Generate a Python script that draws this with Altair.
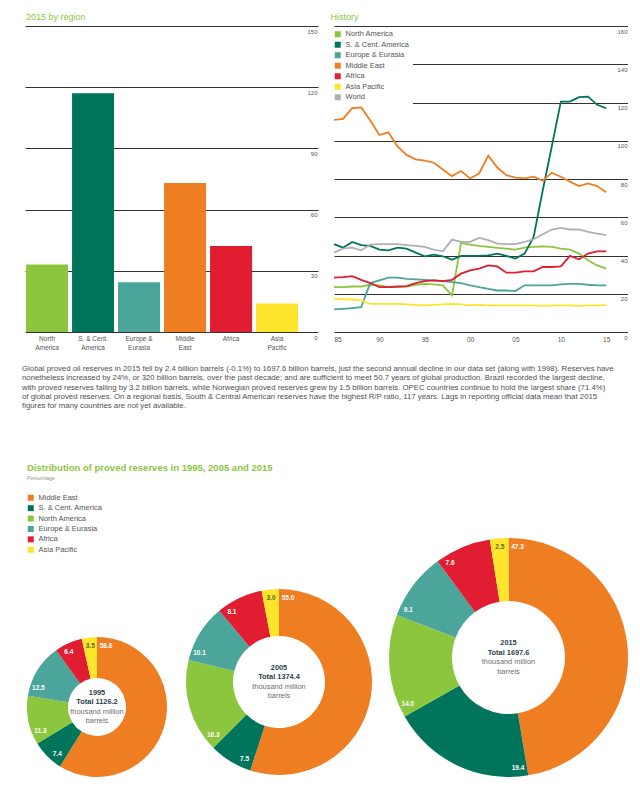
import math
import altair as alt
import pandas as pd

# ---------------- data ----------------
bar_regions = ["North America", "S. & Cent. America", "Europe & Eurasia",
               "Middle East", "Africa", "Asia Pacific"]
bar_rp_2015 = [33.1, 117.0, 24.4, 73.1, 42.2, 14.0]
bar_ticks = [0, 30, 60, 90, 120, 150]

hist_years = list(range(1985, 2016))
hist_series = ["North America", "S. & Cent. America", "Europe & Eurasia",
               "Middle East", "Africa", "Asia Pacific", "World"]
hist_na = [23.5, 23.5, 23.8, 23.8, 24.7, 24.4, 23.5, 23.5, 23.8, 24.7, 25.2, 24.9, 24.4, 19.1,
           46.6, 45.7, 45.0, 44.5, 44.0, 43.6, 43.1, 44.1, 44.5, 44.8, 44.5, 43.6, 43.1, 41.0,
           37.5, 34.8, 33.1]
hist_sca = [45.9, 44.1, 47.1, 45.4, 45.0, 43.1, 42.7, 44.1, 43.6, 41.5, 39.6, 40.4, 39.6, 37.8,
            39.8, 39.8, 39.8, 40.1, 41.0, 39.8, 38.4, 41.0, 49.7, 74.0, 97.0, 120.5, 120.5, 122.8,
            123.1, 118.8, 117.0]
hist_eur = [11.8, 12.1, 12.5, 13.0, 25.6, 27.0, 28.4, 28.4, 27.8, 27.5, 27.3, 27.0, 26.6, 26.1,
            25.6, 24.4, 23.5, 22.6, 21.7, 21.7, 21.4, 24.4, 24.4, 24.4, 24.4, 24.9, 25.2, 25.2,
            24.7, 24.4, 24.4]
hist_me = [110.9, 111.4, 117.0, 117.4, 110.6, 103.0, 104.4, 97.0, 92.6, 90.3, 89.6, 88.5, 85.0,
           81.5, 84.2, 80.3, 83.0, 92.2, 86.0, 82.0, 80.7, 80.3, 81.2, 79.1, 83.3, 81.2, 78.6,
           76.3, 77.7, 76.3, 73.1]
hist_afr = [28.4, 28.7, 29.2, 27.3, 25.6, 23.5, 23.5, 23.8, 24.0, 25.6, 26.6, 27.0, 26.6, 27.3,
            30.5, 32.2, 33.1, 34.8, 34.3, 31.0, 31.0, 31.7, 31.7, 34.0, 34.0, 34.3, 39.8, 38.0,
            41.0, 42.2, 42.2]
hist_ap = [17.4, 17.2, 17.0, 16.5, 14.7, 14.7, 14.7, 14.7, 14.4, 14.2, 13.9, 14.2, 14.4, 14.7,
           14.4, 13.9, 14.2, 13.9, 13.9, 13.9, 13.9, 13.9, 13.9, 13.7, 13.9, 13.9, 13.9, 13.7,
           13.9, 13.9, 14.0]
hist_world = [41.5, 43.6, 44.1, 42.7, 45.7, 45.9, 45.9, 45.9, 45.4, 45.0, 44.5, 43.1, 42.2, 48.3,
              47.1, 47.1, 49.2, 48.0, 46.2, 45.9, 45.9, 47.1, 48.5, 51.1, 53.6, 54.4, 53.6, 53.6,
              52.3, 51.4, 50.7]
hist_y_ticks = [0, 20, 40, 60, 80, 100, 120, 140, 160]
hist_x_ticks = [1985, 1990, 1995, 2000, 2005, 2010, 2015]

paragraph_lines = [
    "Global proved oil reserves in 2015 fell by 2.4 billion barrels (-0.1%) to 1697.6 billion barrels, just the second annual decline in our data set (along with 1998). Reserves have",
    "nonetheless increased by 24%, or 320 billion barrels, over the past decade; and are sufficient to meet 50.7 years of global production. Brazil recorded the largest decline,",
    "with proved reserves falling by 3.2 billion barrels, while Norwegian proved reserves grew by 1.5 billion barrels. OPEC countries continue to hold the largest share (71.4%)",
    "of global proved reserves. On a regional basis, South & Central American reserves have the highest R/P ratio, 117 years. Lags in reporting official data mean that 2015",
    "figures for many countries are not yet available.",
]

donut_regions = ["Middle East", "S. & Cent. America", "North America",
                 "Europe & Eurasia", "Africa", "Asia Pacific"]
donut_years = [1995, 2005, 2015]
donut_totals = [1126.2, 1374.4, 1697.6]
share_1995 = [58.8, 7.4, 11.3, 12.5, 6.4, 3.5]
share_2005 = [55.0, 7.5, 16.3, 10.1, 8.1, 3.0]
share_2015 = [47.3, 19.4, 14.0, 9.1, 7.6, 2.5]

# ---------------- styles ----------------
region_color = {
    "North America": "#8cc63e",
    "S. & Cent. America": "#00755c",
    "Europe & Eurasia": "#4ca59b",
    "Middle East": "#ef7d22",
    "Africa": "#e11d31",
    "Asia Pacific": "#fde52b",
    "World": "#b0b0b0",
}
GREEN = "#8cc63e"
GRID = "#333333"
LABEL = "#555555"
FONT = "Liberation Sans"

# ---------------- bar chart ----------------
bar_df = pd.DataFrame({"region": bar_regions, "rp": bar_rp_2015})
label_expr = ("indexof(datum.label, ' ') < 0 ? datum.label : "
              "[substring(datum.label, 0, lastindexof(datum.label, ' ')), "
              "substring(datum.label, lastindexof(datum.label, ' ') + 1)]")
bar = alt.Chart(
    bar_df,
    title=alt.TitleParams("2015 by region", anchor="start", fontSize=9, fontWeight="normal",
                          color=GREEN, offset=4, dx=1),
).mark_bar().encode(
    x=alt.X("region:N", sort=bar_regions,
            scale=alt.Scale(paddingInner=0.087, paddingOuter=0.228, align=0.05),
            axis=alt.Axis(title=None, labelAngle=0, ticks=False, tickSize=0, domain=False,
                          labelExpr=label_expr, labelFontSize=6.5, labelColor=LABEL,
                          labelPadding=3, labelLineHeight=9, labelOverlap=False)),
    y=alt.Y("rp:Q", scale=alt.Scale(domain=[0, 150], nice=False),
            axis=alt.Axis(orient="right", values=bar_ticks, title=None, grid=True,
                          gridColor=GRID, gridWidth=1, ticks=False, tickSize=0, domain=False,
                          labelAlign="right", labelBaseline="top", labelPadding=-1,
                          labelOffset=2, labelFontSize=6, labelColor=LABEL)),
    color=alt.Color("region:N", scale=alt.Scale(domain=bar_regions,
                                                range=[region_color[r] for r in bar_regions]),
                    legend=None),
).properties(width=293, height=306)

# ---------------- history chart ----------------
hist_values = [hist_na, hist_sca, hist_eur, hist_me, hist_afr, hist_ap, hist_world]
rows = []
for name, vals in zip(hist_series, hist_values):
    for yr, v in zip(hist_years, vals):
        rows.append({"series": name, "year": yr, "rp": v})
hist_df = pd.DataFrame(rows)

hist_range = [region_color[s] for s in hist_series]
hist_x = alt.X("year:Q", scale=alt.Scale(domain=[1985, 2017.4], nice=False, zero=False),
               axis=alt.Axis(values=hist_x_ticks, format="d", labelExpr="slice(datum.label, 2)",
                             title=None, grid=False, ticks=False, tickSize=0, domain=False,
                             labelFontSize=6.5, labelColor=LABEL, labelPadding=4))
hist_y = alt.Y("rp:Q", scale=alt.Scale(domain=[0, 160], nice=False),
               axis=alt.Axis(orient="right", values=hist_y_ticks, title=None, grid=True,
                             gridColor=GRID, gridWidth=1, ticks=False, tickSize=0, domain=False,
                             labelAlign="right", labelBaseline="top", labelPadding=-1,
                             labelOffset=2, labelFontSize=6, labelColor=LABEL))
hist_lines = alt.Chart(hist_df).mark_line(strokeWidth=1.8).encode(
    x=hist_x, y=hist_y,
    stroke=alt.Stroke("series:N", sort=hist_series, scale=alt.Scale(range=hist_range),
                      legend=None),
)
hist_key = alt.Chart(hist_df).mark_square(opacity=0, size=1).encode(
    x=hist_x, y=hist_y,
    fill=alt.Fill("series:N", scale=alt.Scale(domain=hist_series, range=hist_range),
                  legend=alt.Legend(orient="none", legendX=-3, legendY=1.5, title=None,
                                    symbolType="square", symbolSize=36, symbolOpacity=1,
                                    symbolStrokeWidth=0, labelFontSize=7.5, labelColor=LABEL,
                                    labelOffset=4, fillColor="white", padding=3,
                                    rowPadding=1.5)),
)
hist = alt.layer(
    hist_lines, hist_key,
    title=alt.TitleParams("History", anchor="start", fontSize=9, fontWeight="normal",
                          color=GREEN, offset=4),
).properties(width=294, height=306)

row1 = alt.hconcat(bar, hist, spacing=16, bounds="flush").resolve_scale(
    color="independent", fill="independent", stroke="independent")

# ---------------- paragraph ----------------
para_df = pd.DataFrame({"t": ["\n".join(paragraph_lines)]})
para = alt.Chart(para_df).mark_text(
    align="left", baseline="top", fontSize=7.8, lineHeight=9.3, lineBreak="\n", color="#505050"
).encode(x=alt.value(-3), y=alt.value(0), text="t:N").properties(width=600, height=47)

inner = alt.vconcat(row1, para, spacing=14).resolve_scale(
    color="independent", fill="independent", stroke="independent")


# ---------------- donuts ----------------
def spacer(w, h):
    return alt.Chart(pd.DataFrame({"v": [0]})).mark_point(opacity=0).properties(width=w, height=h)


def donut(year, total, shares, outer, inner_r, width, show_legend):
    df = pd.DataFrame({"region": donut_regions, "share": shares,
                       "ord": list(range(len(donut_regions)))})
    base = alt.Chart(df)
    cscale = alt.Scale(domain=donut_regions, range=[region_color[r] for r in donut_regions])
    if show_legend:
        leg = alt.Legend(orient="none", legendX=2, legendY=-143, title=None,
                         symbolType="square", symbolSize=36, symbolStrokeWidth=0,
                         labelFontSize=7.5, labelColor=LABEL, labelOffset=4,
                         rowPadding=1.4, padding=0)
    else:
        leg = None
    arcs = base.mark_arc(outerRadius=outer, innerRadius=inner_r).encode(
        theta=alt.Theta("share:Q", stack=True),
        color=alt.Color("region:N", scale=cscale, legend=leg),
        order=alt.Order("ord:Q", sort="ascending"),
    )
    rl = outer - 8.5
    off = 9.0 / rl / (2 * math.pi) * 100
    labels = base.transform_window(
        cum="sum(share)", sort=[alt.SortField("ord", order="ascending")]
    ).transform_calculate(
        pos=f"datum.cum - datum.share + min({off:.3f}, datum.share / 2)"
    ).mark_text(radius=rl, fontSize=6.5, fontWeight="bold").encode(
        theta=alt.Theta("pos:Q", stack=False),
        text=alt.Text("share:Q", format=".1f"),
        color=alt.condition("datum.region == 'Asia Pacific'", alt.value("#55691f"),
                            alt.value("white")),
    )
    ctr = pd.DataFrame({"yr": [str(year)], "tot": [f"Total {total}"],
                        "u1": ["thousand million"], "u2": ["barrels"]})
    center = []
    for field, weight, col, dy in [("yr", "bold", "#2c4048", -14.1),
                                   ("tot", "bold", "#2c4048", -4.7),
                                   ("u1", "normal", "#6d6e71", 4.7),
                                   ("u2", "normal", "#6d6e71", 14.1)]:
        center.append(alt.Chart(ctr).mark_text(fontWeight=weight, fontSize=7.4,
                                               baseline="middle", dy=dy, color=col)
                      .encode(text=f"{field}:N"))
    return alt.layer(arcs, labels, *center).properties(width=width, height=2 * outer)


d1995 = donut(donut_years[0], donut_totals[0], share_1995, 70, 29, 144, True)
d2005 = donut(donut_years[1], donut_totals[1], share_2005, 93, 46, 186, False)
d2015 = donut(donut_years[2], donut_totals[2], share_2015, 119.5, 56.5, 239, False)

colA = alt.vconcat(spacer(144, 149), d1995, spacing=0, bounds="flush").resolve_scale(color="independent")
colB = alt.vconcat(spacer(186, 101), d2005, spacing=0, bounds="flush").resolve_scale(color="independent")
colC = alt.vconcat(spacer(239, 50), d2015, spacing=0, bounds="flush").resolve_scale(color="independent")

row3 = alt.hconcat(
    colA, colB, colC, spacing=17,
    title=alt.TitleParams("Distribution of proved reserves in 1995, 2005 and 2015",
                          subtitle="Percentage", anchor="start", dx=2, fontSize=9.5,
                          fontWeight="bold", color=GREEN, subtitleFontSize=5.5,
                          subtitleColor="#8f9a84", subtitlePadding=3, offset=7),
).resolve_scale(color="independent", theta="independent")

chart = alt.vconcat(inner, row3, spacing=51).resolve_scale(
    color="independent", fill="independent", stroke="independent"
).properties(
    padding={"left": 14, "top": 5, "right": 0, "bottom": 0}
).configure(font=FONT, background="white").configure_view(stroke=None)

chart.save("out.html", embed_options={"renderer": "svg", "actions": False})
